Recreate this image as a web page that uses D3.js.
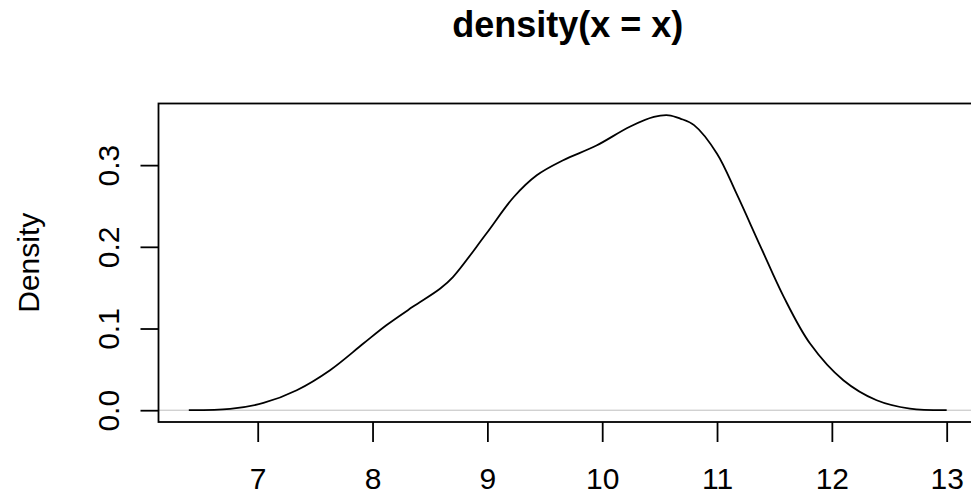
<!DOCTYPE html>
<html>
<head>
<meta charset="utf-8">
<script src="https://cdn.jsdelivr.net/npm/d3@7"></script>
<style>
  body { margin: 0; background: #fff; }
  svg { display: block; font-family: "Liberation Sans", Arial, sans-serif; }
</style>
</head>
<body>
<div id="graph"></div>
<script>
// density estimate
var xValues = [6.40, 6.76, 7.05, 7.34, 7.63, 7.92, 8.12, 8.35, 8.59, 8.70, 8.99, 9.23, 9.43, 9.66, 9.95,
               10.24, 10.45, 10.58, 10.68, 10.80, 11.00, 11.17, 11.38, 11.58, 11.81, 12.10, 12.39, 12.68, 13.00];
var yValues = [0.000, 0.0016, 0.0089, 0.0245, 0.049, 0.0816, 0.104, 0.1265, 0.149, 0.163, 0.216, 0.261, 0.2876, 0.306, 0.324,
               0.347, 0.359, 0.361, 0.357, 0.349, 0.314, 0.265, 0.200, 0.139, 0.0816, 0.0367, 0.0122, 0.002, 0.000];
var xTicks = [7, 8, 9, 10, 11, 12, 13];
var yTicks = [0.0, 0.1, 0.2, 0.3];

var width = 971, height = 499;
var margin = {top: 103.5, right: -6, bottom: 77, left: 158.5};

var svg = d3.select("#graph").append("svg")
    .attr("width", width)
    .attr("height", height);

// R style 4% extension of the ranges
var xr = d3.extent(xValues), yr = [0, d3.max(yValues)];
var xPad = (xr[1] - xr[0]) * 0.04, yPad = (yr[1] - yr[0]) * 0.04;

var xScale = d3.scaleLinear().domain([xr[0] - xPad, xr[1] + xPad])
    .range([margin.left, width - margin.right]);
var yScale = d3.scaleLinear().domain([yr[0] - yPad, yr[1] + yPad])
    .range([height - margin.bottom, margin.top]);

// zero line
svg.append("line")
    .attr("x1", margin.left).attr("x2", width - margin.right)
    .attr("y1", yScale(0)).attr("y2", yScale(0))
    .attr("stroke", "#bebebe").attr("stroke-width", 1);

var line = d3.line()
    .x(function(d, i) { return xScale(xValues[i]); })
    .y(function(d) { return yScale(d); })
    .curve(d3.curveCatmullRom.alpha(0.5));

svg.append("path")
    .datum(yValues)
    .attr("d", line)
    .attr("fill", "none")
    .attr("stroke", "#000")
    .attr("stroke-width", 1.8);

// box
svg.append("rect")
    .attr("x", margin.left).attr("y", margin.top)
    .attr("width", width - margin.right - margin.left)
    .attr("height", height - margin.bottom - margin.top)
    .attr("fill", "none").attr("stroke", "#000").attr("stroke-width", 1.8);

var xAxis = d3.axisBottom(xScale).tickValues(xTicks).tickSize(20).tickPadding(26)
    .tickFormat(d3.format("d"));
var xContainer = svg.append("g")
    .attr("transform", "translate(0," + (height - margin.bottom) + ")")
    .call(xAxis);
xContainer.select(".domain").remove();
xContainer.selectAll(".tick line").attr("stroke-width", 1.8);
xContainer.selectAll("text").attr("font-size", 30).attr("font-family", "Liberation Sans, Arial, sans-serif");

var yAxis = d3.axisLeft(yScale).tickValues(yTicks).tickSize(18).tickPadding(0)
    .tickFormat(d3.format(".1f"));
var yContainer = svg.append("g")
    .attr("transform", "translate(" + margin.left + ",0)")
    .call(yAxis);
yContainer.select(".domain").remove();
yContainer.selectAll(".tick line").attr("stroke-width", 1.8);
yContainer.selectAll("text")
    .attr("font-size", 30)
    .attr("font-family", "Liberation Sans, Arial, sans-serif")
    .attr("x", null).attr("dy", null)
    .attr("text-anchor", "middle")
    .attr("transform", "translate(-40,0) rotate(-90)");

svg.append("text")
    .attr("transform", "translate(" + 39 + "," + ((margin.top + height - margin.bottom) / 2) + ") rotate(-90)")
    .attr("text-anchor", "middle")
    .attr("font-size", 30)
    .text("Density");

svg.append("text")
    .attr("x", (margin.left + width - margin.right) / 2)
    .attr("y", 37)
    .attr("text-anchor", "middle")
    .attr("font-size", 36)
    .attr("font-weight", "bold")
    .text("density(x = x)");
</script>
</body>
</html>
